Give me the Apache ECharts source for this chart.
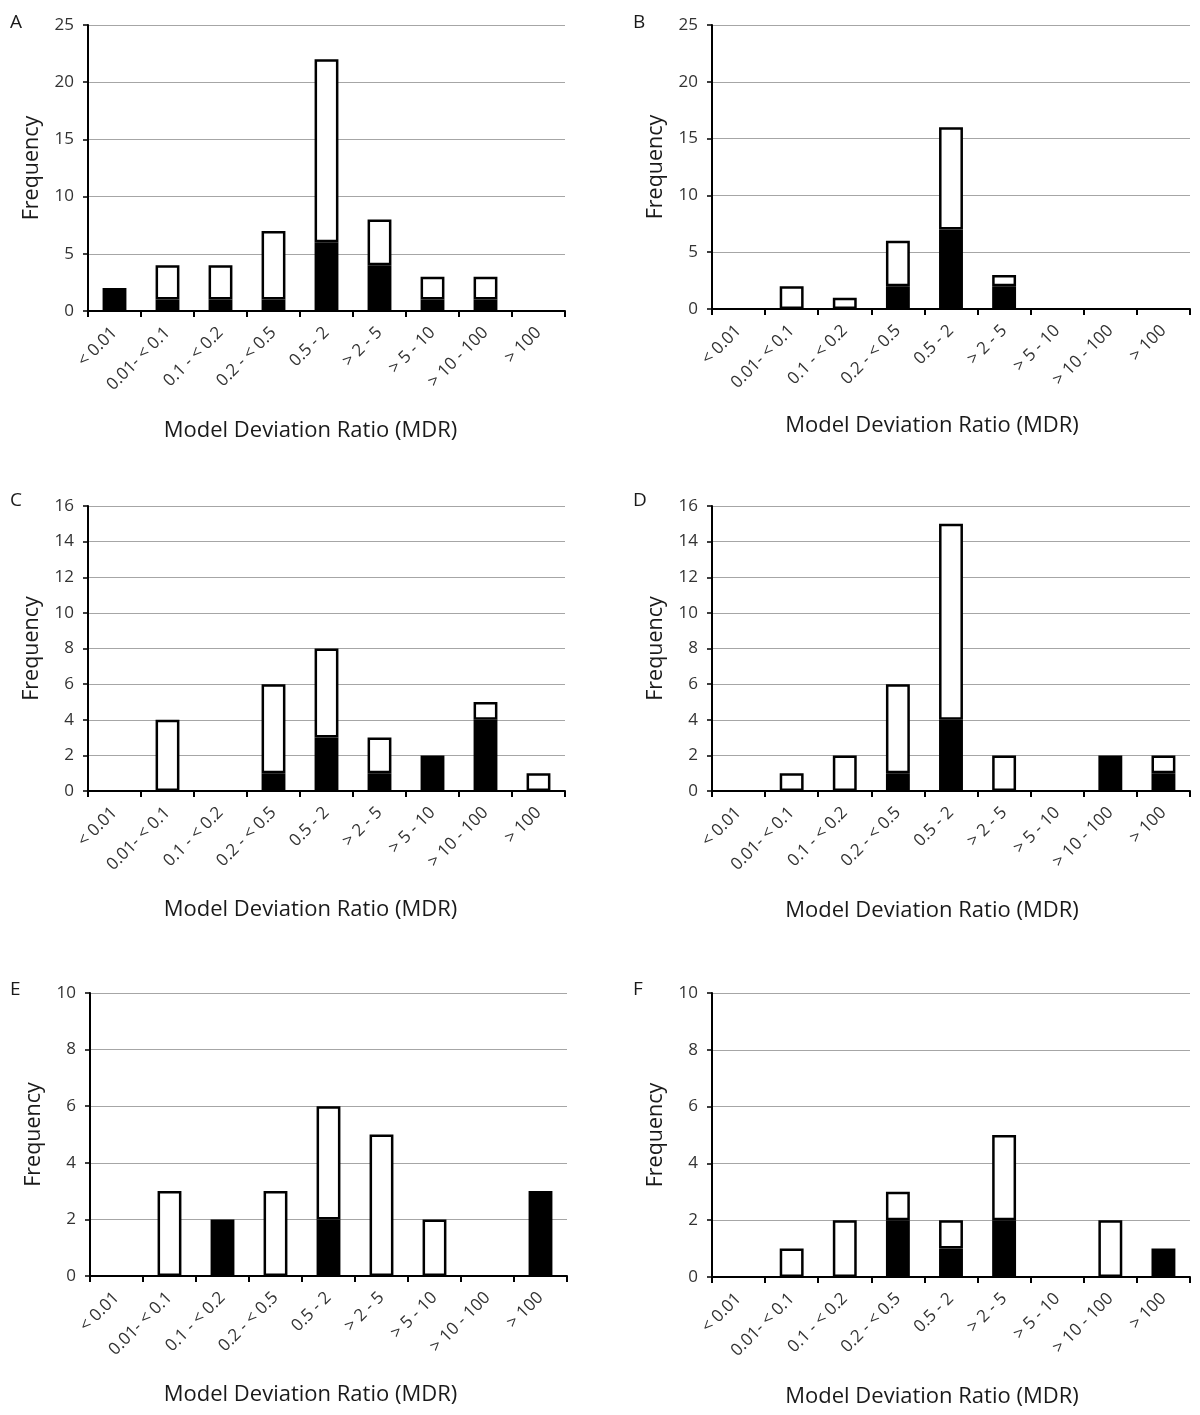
<!DOCTYPE html>
<html><head><meta charset="utf-8">
<script src="https://cdn.jsdelivr.net/npm/echarts@6/dist/echarts.min.js"></script>
<style>html,body{margin:0;padding:0;background:#fff}#c{width:1200px;height:1415px}</style>
</head><body><div id="c"></div>
<script>
const categories = ['< 0.01','0.01- < 0.1','0.1 - < 0.2','0.2 - < 0.5','0.5 - 2','> 2 - 5','> 5 - 10','> 10 - 100','> 100'];
const panelLabels = ['A','B','C','D','E','F'];
// black (lower) segment values
const blackA = [2,1,1,1,6,4,1,1,0];
const blackB = [0,0,0,2,7,2,0,0,0];
const blackC = [0,0,0,1,3,1,2,4,0];
const blackD = [0,0,0,1,4,0,0,2,1];
const blackE = [0,0,2,0,2,0,0,0,3];
const blackF = [0,0,0,2,1,2,0,0,1];
// total bar heights
const totalA = [2,4,4,7,22,8,3,3,0];
const totalB = [0,2,1,6,16,3,0,0,0];
const totalC = [0,4,0,6,8,3,2,5,1];
const totalD = [0,1,2,6,15,2,0,2,2];
const totalE = [0,3,2,3,6,5,2,0,3];
const totalF = [0,1,2,3,2,5,0,2,1];
const yMax = [25,25,16,16,10,10];
const yStep = [5,5,2,2,2,2];

const blacks = [blackA,blackB,blackC,blackD,blackE,blackF];
const totals = [totalA,totalB,totalC,totalD,totalE,totalF];

const grids = [
  {left:88, top:25, width:477, height:286},
  {left:712, top:25, width:478, height:284},
  {left:88, top:506, width:477, height:285},
  {left:712, top:506, width:478, height:285},
  {left:90, top:993, width:477, height:283},
  {left:712, top:993, width:478, height:284}
];
const xNameGap = [109,106,108,109,108,109];
const xNameShift = [32,38,32,38,36,38];
const letterPos = [[5,8],[628,8],[5,486],[628,486],[5,975],[628,975]];
const FONT = '"Open Sans", "Noto Sans", sans-serif';

const xAxes = [], yAxes = [], series = [], titles = [];
grids.forEach((g,i)=>{
  xAxes.push({
    type:'category', gridIndex:i, data:categories,
    name:'Model Deviation Ratio (MDR)', nameLocation:'middle', nameGap:xNameGap[i],
    nameTextStyle:{fontFamily:FONT, fontSize:22, color:'#1a1a1a', padding:[0, xNameShift[i], 0, 0]},
    axisLine:{lineStyle:{color:'#000', width:2}},
    axisTick:{show:true, length:6, lineStyle:{color:'#000', width:2}},
    axisLabel:{rotate:45, fontFamily:FONT, fontSize:17, color:'#333', margin:19, interval:0}
  });
  yAxes.push({
    type:'value', gridIndex:i, min:0, max:yMax[i], interval:yStep[i],
    name:'Frequency', nameLocation:'middle', nameGap:45,
    nameTextStyle:{fontFamily:FONT, fontSize:21.5, color:'#1a1a1a'},
    axisLine:{show:true, lineStyle:{color:'#000', width:2}},
    axisTick:{show:true, length:5, lineStyle:{color:'#000', width:1.5}},
    axisLabel:{fontFamily:FONT, fontSize:17, color:'#333', margin:14},
    splitLine:{lineStyle:{color:'#a6a6a6', width:1}}
  });
  const b = blacks[i], t = totals[i];
  series.push({
    type:'bar', xAxisIndex:i, yAxisIndex:i, stack:'s'+i, barWidth:'45%',
    data:b.map(v=> v>0 ? v : null),
    itemStyle:{color:'#000', borderColor:'#000', borderWidth:2.5},
    silent:true, animation:false
  });
  series.push({
    type:'bar', xAxisIndex:i, yAxisIndex:i, stack:'s'+i, barWidth:'45%',
    data:t.map((v,k)=> (v-b[k])>0 ? v-b[k] : null),
    itemStyle:{color:'#fff', borderColor:'#000', borderWidth:2.5},
    silent:true, animation:false
  });
  titles.push({text:panelLabels[i], left:letterPos[i][0], top:letterPos[i][1],
    textStyle:{fontFamily:FONT, fontSize:19, fontWeight:'normal', color:'#1a1a1a'}});
});

const chart = echarts.init(document.getElementById('c'), null, {renderer:'canvas'});
chart.setOption({
  backgroundColor:'#fff', animation:false,
  title:titles, grid:grids, xAxis:xAxes, yAxis:yAxes, series:series
});
</script></body></html>
